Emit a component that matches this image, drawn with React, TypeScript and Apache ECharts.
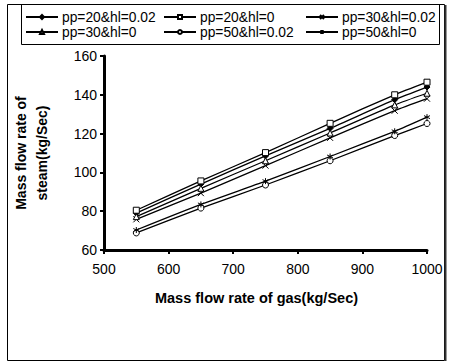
import React, { useEffect, useRef } from "react";
import * as echarts from "echarts";

const gasFlow = [550, 650, 750, 850, 950, 1000];
const seriesNames = ["pp=20&hl=0.02", "pp=20&hl=0", "pp=30&hl=0.02", "pp=30&hl=0", "pp=50&hl=0.02", "pp=50&hl=0"];
const pp20hl002 = [79, 94, 108.5, 122.7, 137.5, 144];
const pp20hl0 = [80.5, 95.6, 110.2, 125.3, 140, 146.5];
const pp30hl002 = [75.8, 89.3, 103.5, 117.8, 131.8, 138];
const pp30hl0 = [77.2, 91.8, 106, 120.3, 134.8, 140.8];
const pp50hl002 = [68.8, 81.6, 93.5, 106, 119, 125.2];
const pp50hl0 = [70.3, 83.5, 95.5, 108.2, 121.2, 128.5];
const seriesValues = [pp20hl002, pp20hl0, pp30hl002, pp30hl0, pp50hl002, pp50hl0];

const xSym = "path://M0,0L10,10M10,0L0,10";
const starSym = "path://M5,0L5,10M0,2.5L10,7.5M0,7.5L10,2.5";
const symbols = ["diamond", "rect", xSym, "triangle", "circle", starSym];
const fills = ["#000", "#fff", "#fff", "#fff", "#fff", "#fff"];
const legendPos = [
  [25, 10], [163, 10], [305, 10],
  [25, 25], [163, 25], [305, 25],
];

export default function App() {
  const ref = useRef<HTMLDivElement>(null);
  useEffect(() => {
    const chart = echarts.init(ref.current!, null, { renderer: "svg" });
    const series = seriesNames.map((name, i) => ({
      name,
      type: "line",
      data: gasFlow.map((x, j) => [x, seriesValues[i][j]]),
      symbol: symbols[i],
      symbolSize: 6,
      smooth: 0.2,
      lineStyle: { color: "#000", width: 1.3 },
      itemStyle: { color: fills[i], borderColor: "#000", borderWidth: 1 },
      emphasis: { disabled: true },
    }));
    const legends = seriesNames.map((name, i) => ({
      data: [name],
      left: legendPos[i][0],
      top: legendPos[i][1],
      itemWidth: 32,
      itemHeight: 5,
      padding: 0,
      textStyle: { color: "#000", fontSize: 13.8, fontFamily: "Liberation Sans", padding: [0, 0, 0, -1] },
      selectedMode: false,
    }));
    chart.setOption({
      animation: false,
      backgroundColor: "#fff",
      legend: legends,
      grid: { left: 104, right: 25, top: 56, bottom: 114 },
      xAxis: {
        type: "value",
        min: 500,
        max: 1000,
        interval: 100,
        name: "Mass flow rate of gas(kg/Sec)",
        nameLocation: "middle",
        nameGap: 40,
        nameTextStyle: { color: "#000", fontSize: 14.5, fontWeight: "bold", fontFamily: "Liberation Sans", padding: [0, 18, 0, 0] },
        axisLine: { lineStyle: { color: "#000", width: 3 } },
        axisTick: { lineStyle: { color: "#000", width: 2 }, length: 4 },
        axisLabel: { color: "#000", fontSize: 14, margin: 12, fontFamily: "Liberation Sans", formatter: (v: number) => String(v) },
        splitLine: { show: false },
      },
      yAxis: {
        type: "value",
        min: 60,
        max: 160,
        interval: 20,
        name: "Mass flow rate of\nsteam(kg/Sec)",
        nameLocation: "middle",
        nameGap: 52,
        nameTextStyle: { color: "#000", fontSize: 14, fontWeight: "bold", fontFamily: "Liberation Sans", lineHeight: 21, padding: [0, 0, 0, 0] },
        axisLine: { show: true, lineStyle: { color: "#000", width: 3 } },
        axisTick: { show: true, lineStyle: { color: "#000", width: 2 }, length: 4 },
        axisLabel: { color: "#000", fontSize: 14, margin: 7, fontFamily: "Liberation Sans", formatter: (v: number) => String(v) },
        splitLine: { show: false },
      },
      graphic: [
        { type: "rect", shape: { x: 7.5, y: 4.5, width: 437, height: 356 }, style: { fill: "none", stroke: "#000", lineWidth: 1 }, silent: true },
        { type: "line", shape: { x1: 445.5, y1: 5, x2: 445.5, y2: 361 }, style: { stroke: "#333", lineWidth: 2 }, silent: true },
        { type: "rect", shape: { x: 21.5, y: 4.5, width: 418, height: 40 }, style: { fill: "none", stroke: "#000", lineWidth: 1 }, silent: true },
      ],
      series,
    });
    return () => chart.dispose();
  }, []);
  return <div ref={ref} style={{ width: 452, height: 364, position: "absolute", left: 0, top: 0 }} />;
}
